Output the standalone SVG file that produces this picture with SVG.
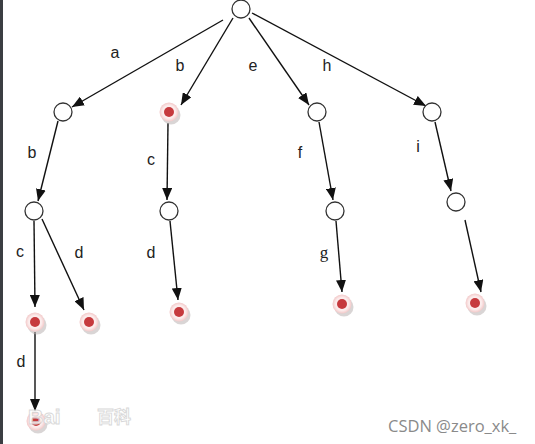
<svg xmlns="http://www.w3.org/2000/svg" width="535" height="444" viewBox="0 0 535 444">
<defs>
<marker id="arr" viewBox="0 0 12 10" refX="12" refY="5" markerWidth="12" markerHeight="10" markerUnits="userSpaceOnUse" orient="auto">
<path d="M0,0 L12,5 L0,10 z" fill="#111"/>
</marker>
<radialGradient id="halo" cx="50%" cy="50%" r="50%">
<stop offset="0%" stop-color="#ffffff"/>
<stop offset="70%" stop-color="#fbeaea"/>
<stop offset="100%" stop-color="#f2c8c8"/>
</radialGradient>
</defs>
<style>
.n{fill:#fff;stroke:#333;stroke-width:1.3}
.sh{fill:#b9b2b2;opacity:0.55}
.ho{fill:url(#halo)}
.dot{fill:#c63a3e}
.e{stroke:#111;stroke-width:1.4;fill:none;marker-end:url(#arr)}
.l{font-family:"Liberation Sans",Arial,sans-serif;font-size:16px;fill:#222;text-anchor:middle}
.ls{font-family:"Liberation Serif","Times New Roman",serif;font-size:17px;fill:#222;text-anchor:middle}
.wm{font-family:"Open Sans","Noto Sans",sans-serif;font-size:16.5px;fill:#8a8a8a}
.bd{font-family:"Liberation Sans","Noto Sans CJK SC",sans-serif;font-weight:bold;fill:#ffffff;stroke:#d2d2d2;stroke-width:0.9;opacity:0.85}
</style>
<rect width="535" height="444" fill="#fff"/>
<rect x="0" y="0" width="3" height="444" fill="#3b3e42"/>

<g id="connectors">
<line class="e" x1="223" y1="20" x2="72" y2="107"/>
<line class="e" x1="233" y1="18" x2="181" y2="105"/>
<line class="e" x1="249" y1="18" x2="309" y2="105"/>
<line class="e" x1="252" y1="13" x2="426" y2="106"/>
<line class="e" x1="58" y1="121" x2="38" y2="201"/>
<line class="e" x1="168" y1="123" x2="167" y2="200"/>
<line class="e" x1="319" y1="122" x2="333" y2="200"/>
<line class="e" x1="435" y1="122" x2="451" y2="191"/>
<line class="e" x1="34" y1="221" x2="35" y2="307"/>
<line class="e" x1="42" y1="219" x2="84" y2="310"/>
<line class="e" x1="170" y1="221" x2="178" y2="300"/>
<line class="e" x1="336" y1="221" x2="342" y2="292"/>
<line class="e" x1="465" y1="220" x2="481" y2="292"/>
<line class="e" x1="35" y1="332" x2="35" y2="411"/>
</g>

<g id="labels">
<text class="l" x="115" y="58">a</text>
<text class="l" x="180" y="71">b</text>
<text class="l" x="253" y="71">e</text>
<text class="l" x="327" y="71">h</text>
<text class="l" x="32" y="158">b</text>
<text class="l" x="151" y="165">c</text>
<text class="l" x="300" y="158">f</text>
<text class="l" x="418" y="152">i</text>
<text class="l" x="20" y="257">c</text>
<text class="l" x="79" y="258">d</text>
<text class="l" x="151" y="258">d</text>
<text class="ls" x="324" y="258">g</text>
<text class="l" x="21" y="367">d</text>
</g>

<g id="root"><circle class="n" cx="241" cy="9" r="9"/></g>
<g id="n_a"><circle class="n" cx="63" cy="112" r="9"/></g>
<g id="n_b"><circle class="sh" cx="171" cy="115" r="9.5"/><circle class="ho" cx="169" cy="112" r="9.5"/><circle class="dot" cx="169" cy="112" r="5"/></g>
<g id="n_e"><circle class="n" cx="317" cy="112" r="9"/></g>
<g id="n_h"><circle class="n" cx="432" cy="112" r="9"/></g>
<g id="n_ab"><circle class="n" cx="34" cy="211" r="9"/></g>
<g id="n_bc"><circle class="n" cx="169" cy="211" r="9"/></g>
<g id="n_ef"><circle class="n" cx="335" cy="211" r="9"/></g>
<g id="n_hi"><circle class="n" cx="456" cy="202" r="9"/></g>
<g id="n_abc"><circle class="sh" cx="37" cy="325" r="9.5"/><circle class="ho" cx="35" cy="322" r="9.5"/><circle class="dot" cx="35" cy="322" r="5"/></g>
<g id="n_abd"><circle class="sh" cx="91" cy="325" r="9.5"/><circle class="ho" cx="89" cy="322" r="9.5"/><circle class="dot" cx="89" cy="322" r="5"/></g>
<g id="n_bcd"><circle class="sh" cx="181" cy="315" r="9.5"/><circle class="ho" cx="179" cy="312" r="9.5"/><circle class="dot" cx="179" cy="312" r="5"/></g>
<g id="n_efg"><circle class="sh" cx="344" cy="307" r="9.5"/><circle class="ho" cx="342" cy="304" r="9.5"/><circle class="dot" cx="342" cy="304" r="5"/></g>
<g id="n_hij"><circle class="sh" cx="477" cy="306" r="9.5"/><circle class="ho" cx="475" cy="303" r="9.5"/><circle class="dot" cx="475" cy="303" r="5"/></g>
<g id="n_abcd"><circle class="sh" cx="38" cy="424" r="9.5"/><circle class="ho" cx="36" cy="421" r="9.5"/><circle class="dot" cx="36" cy="421" r="5"/></g>

<text class="bd" x="28" y="424" font-size="21">Bai</text>
<text class="bd" x="97" y="423" font-size="17">百科</text>
<text class="wm" x="388" y="432">CSDN @zero_xk_</text>
</svg>
